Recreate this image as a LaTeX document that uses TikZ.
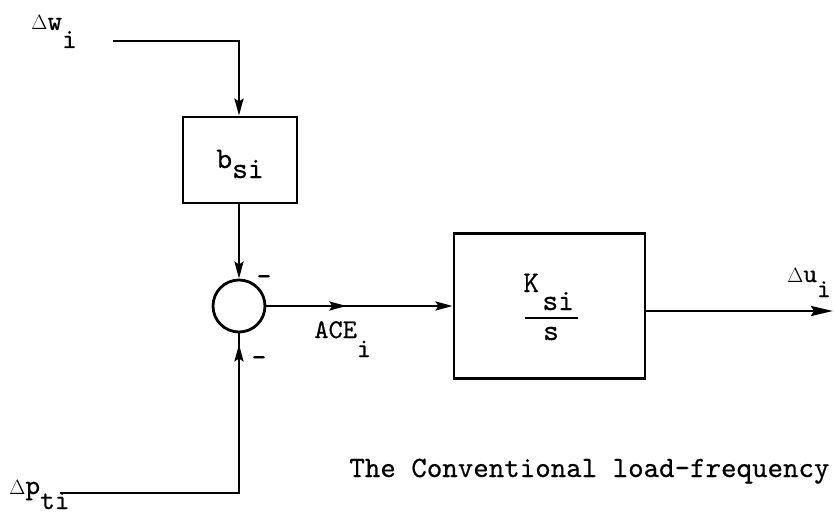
\documentclass[tikz,border=0pt]{standalone}
\usepackage{fontspec}
\newfontfamily\tw{lmmono10-regular.otf}[FakeBold=0.5]
\usetikzlibrary{arrows.meta,decorations.markings}
\newcommand\tsub[2]{\raisebox{-#1}{#2}}
\newcommand\dl{{\fontsize{22}{23}\selectfont$\Delta$}}
\begin{document}
\begin{tikzpicture}[x=1pt,y=-1pt,line width=2.8pt,
  tip/.style={-{Stealth[length=17pt,width=9pt,inset=3pt]}},
  blk/.style={draw,rectangle,line width=2.8pt,inner sep=0pt},
  lbl/.style={font=\tw\fontsize{28}{29}\selectfont,inner sep=0pt},
  big/.style={font=\tw\fontsize{30}{31}\selectfont},
  midarr/.style={postaction={decorate},decoration={markings,mark=at position #1 with {\arrow{Stealth[length=17pt,width=9pt,inset=3pt]}}}}]
\useasboundingbox (0,0) rectangle (836,516);
% blocks
\node[blk,minimum width=114pt,minimum height=86pt] (bsi) at (240,160) {};
\node[lbl,big,anchor=base west] (bsib) at (215,168) {b\tsub{10pt}{si}};
\node[draw,circle,line width=2.8pt,minimum size=52pt,inner sep=0pt] (sum) at (239,306) {};
\node[blk,minimum width=191pt,minimum height=145pt] (K) at (549.5,306) {};
\node[lbl,big,anchor=base west] (Kk) at (522,292) {K};
\node[lbl,big,anchor=base west] (Ksi) at (541,310) {si};
\node[lbl,big,anchor=base] (Ks) at (551,340) {s};
\coordinate (barl) at (525,318);
\coordinate (barr) at (578,318);
\draw[line width=2.2pt] (barl) -- (barr);
% inputs / outputs
\coordinate (win) at (113,41);
\coordinate (pin) at (60,493);
\coordinate (uout) at (833,311);
\draw[tip] (win) -| (sum.north |- bsi.north);
\draw[tip] (sum.north |- bsi.south) -- (sum.north);
\draw[midarr=-11pt] (pin) -| (sum.south);
\draw[tip,midarr=80pt] (sum.east) -- (K.west);
\draw[-{Stealth[length=22pt,width=10pt,inset=3pt]}] (K.east |- uout) -- (uout);
% labels
\node[lbl,anchor=base west] (lw) at (30,30) {\dl w\tsub{18pt}{i}};
\node[lbl,anchor=base west] (lp) at (8,494) {\dl p\tsub{15pt}{ti}};
\node[lbl,font=\tw\fontsize{26}{27}\selectfont,anchor=base west] (lu) at (786,282) {\dl u\tsub{15pt}{i}};
\node[lbl,font=\tw\fontsize{27}{28}\selectfont,anchor=base west] (lace) at (313,338) {ACE\tsub{19pt}{i}};
\node[lbl,anchor=center] (m1) at (264,280) {-};
\node[lbl,anchor=center] (m2) at (259,361) {-};
\node[font=\tw\fontsize{29.5}{30}\selectfont,inner sep=0pt,anchor=base west] (cap) at (348,477) {The Conventional load-frequency};
\end{tikzpicture}
\end{document}
